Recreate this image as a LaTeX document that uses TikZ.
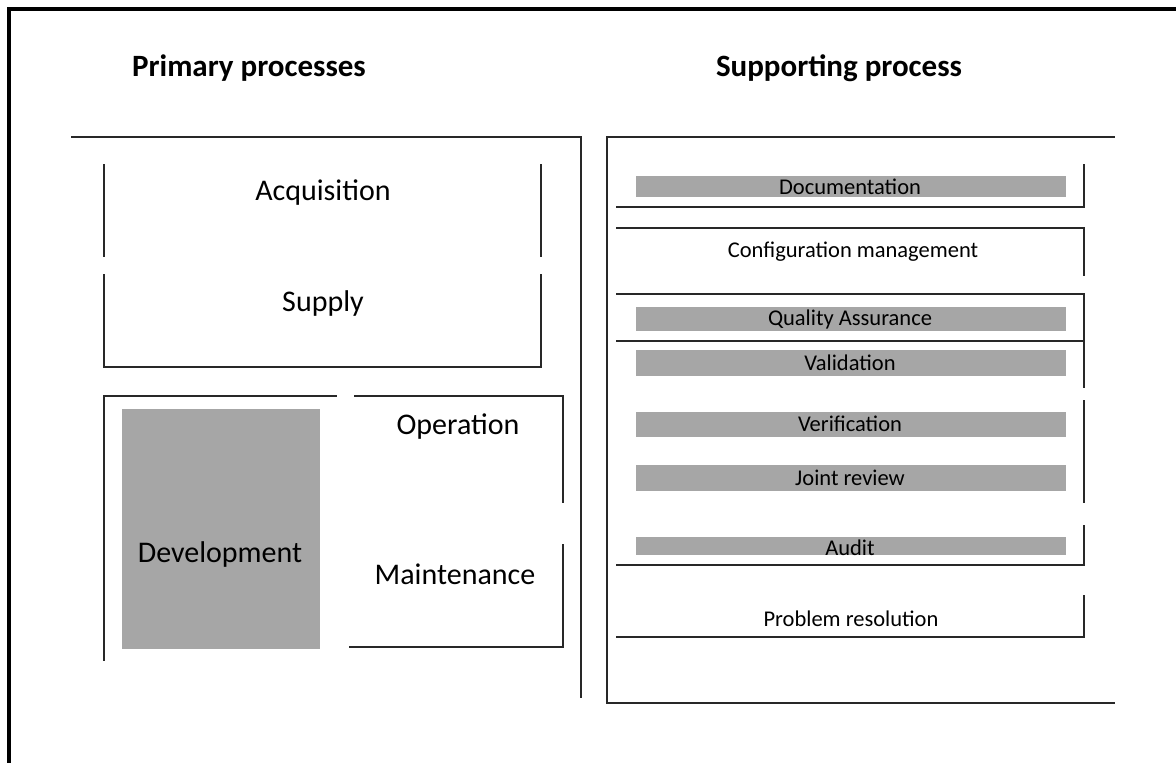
\documentclass[tikz,border=0pt]{standalone}
\usepackage{fontspec}
\setmainfont{Carlito}
\definecolor{barg}{RGB}{166,166,166}
\definecolor{lineg}{RGB}{40,40,40}
\tikzset{
  ln/.style={draw=lineg, line width=2.5pt, line cap=rect, line join=miter},
  frame/.style={draw=black, line width=4pt, line join=miter},
  bar/.style={fill=barg, draw=none},
  head/.style={font=\fontsize{31}{36}\selectfont\bfseries, text=black, inner sep=0pt},
  big/.style={font=\fontsize{30}{36}\selectfont, text=black, inner sep=0pt},
  small/.style={font=\fontsize{22.5}{26}\selectfont, text=black, inner sep=0pt}
}
\begin{document}
\begin{tikzpicture}[x=1pt,y=-1pt]
\useasboundingbox (0,0) rectangle (1176,763);
% outer frame (only left and top visible)
\draw[frame] (8.7,770) -- (8.7,8.7) -- (1185,8.7);

% headings
\node[head] (hp) at (249,68) {Primary processes};
\node[head] (hs) at (839,68) {Supporting process};

% ---------- primary processes ----------
\draw[ln] (72,137) -- (581,137) -- (581,697);
% acquisition
\draw[ln] (104,165) -- (104,256);
\draw[ln] (541,165) -- (541,256);
\node[big] (acq) at (323,193) {Acquisition};
% supply
\draw[ln] (104,275) -- (104,367) -- (541,367) -- (541,275);
\node[big] (sup) at (323,303) {Supply};
% lower box
\draw[ln] (336,396) -- (104,396) -- (104,660);
\draw[ln] (355,396) -- (563,396) -- (563,502);
\draw[ln] (563,545) -- (563,647) -- (350,647);
\fill[bar] (122,409) rectangle (320,649);
\node[big] (dev) at (220,554) {Development};
\node[big] (op) at (458,427) {Operation};
\node[big] (mai) at (455,574) {Maintenance};

% ---------- supporting process ----------
\draw[ln] (1114,137) -- (607,137) -- (607,703) -- (1114,703);
% documentation
\fill[bar] (636,176) rectangle (1066,197);
\draw[ln] (617,207) -- (1084,207) -- (1084,165);
\node[small] (doc) at (850,187) {Documentation};
% configuration management
\draw[ln] (617,228) -- (1084,228) -- (1084,275);
\node[small] (cfg) at (853,252) {Configuration management};
% quality assurance + validation
\draw[ln] (617,294) -- (1084,294) -- (1084,387);
\fill[bar] (636,307) rectangle (1066,331);
\node[small] (qa) at (850,319) {Quality Assurance};
\draw[ln] (617,341) -- (1084,341);
\fill[bar] (636,350) rectangle (1066,376);
\node[small] (val) at (850,363) {Validation};
% verification + joint review
\draw[ln] (1084,401) -- (1084,502);
\fill[bar] (636,412) rectangle (1066,437);
\node[small] (ver) at (850,424) {Verification};
\fill[bar] (636,465) rectangle (1066,491);
\node[small] (jr) at (850,478) {Joint review};
% audit
\fill[bar] (636,537) rectangle (1066,555);
\node[small] (aud) at (850,548) {Audit};
\draw[ln] (617,565) -- (1084,565) -- (1084,526);
% problem resolution
\draw[ln] (617,637) -- (1084,637) -- (1084,596);
\node[small] (pr) at (851,619) {Problem resolution};
\end{tikzpicture}
\end{document}
